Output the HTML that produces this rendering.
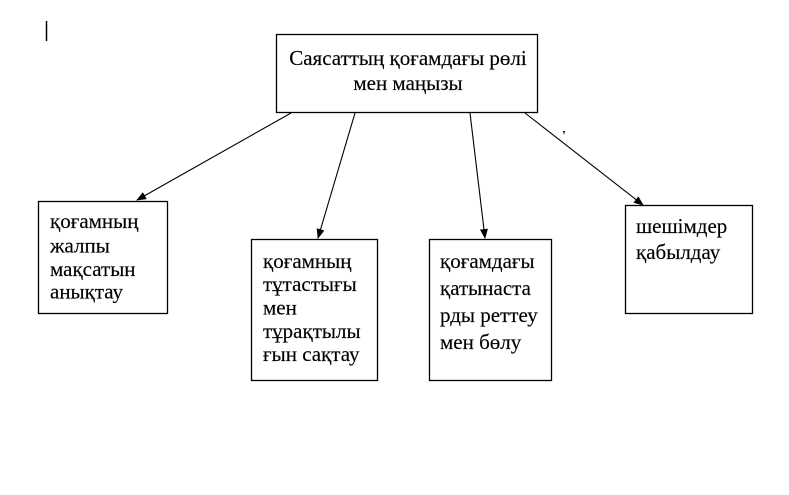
<!DOCTYPE html>
<html>
<head>
<meta charset="utf-8">
<style>
  html, body { margin: 0; padding: 0; background: #ffffff; }
  body { width: 789px; height: 495px; overflow: hidden; }
  svg { display: block; }
  text { font-family: "Liberation Serif", "Times New Roman", serif; font-size: 21px; fill: #000; stroke: #000; stroke-width: 0.15px; }
</style>
</head>
<body>
<svg width="789" height="495" viewBox="0 0 789 495" xmlns="http://www.w3.org/2000/svg">
  <defs>
    <marker id="ah" markerWidth="10" markerHeight="8" refX="9" refY="4" orient="auto" markerUnits="userSpaceOnUse">
      <path d="M0,0 L10,4 L0,8 Z" fill="#000"/>
    </marker>
  </defs>

  <!-- cursor -->
  <line x1="46.5" y1="21" x2="46.5" y2="41" stroke="#000" stroke-width="1.5"/>

  <!-- top box -->
  <rect x="276.5" y="34.5" width="261" height="78" fill="#fff" stroke="#000" stroke-width="1.3"/>
  <text x="408" y="65" text-anchor="middle">Саясаттың қоғамдағы рөлі</text>
  <text x="408" y="90" text-anchor="middle">мен маңызы</text>

  <!-- connectors -->
  <line x1="291" y1="113" x2="137" y2="200" stroke="#000" stroke-width="1.1" marker-end="url(#ah)"/>
  <line x1="355" y1="113" x2="318" y2="238" stroke="#000" stroke-width="1.1" marker-end="url(#ah)"/>
  <line x1="470" y1="113" x2="485" y2="238" stroke="#000" stroke-width="1.1" marker-end="url(#ah)"/>
  <line x1="525" y1="113" x2="643" y2="205" stroke="#000" stroke-width="1.1" marker-end="url(#ah)"/>

  <!-- stray mark -->
  <path d="M563,131 L565,131 L564,135 Z" fill="#000"/>

  <!-- box 1 -->
  <rect x="38.5" y="201.5" width="129" height="112" fill="#fff" stroke="#000" stroke-width="1.3"/>
  <text x="50" y="228">қоғамның</text>
  <text x="50" y="252.5">жалпы</text>
  <text x="50" y="276">мақсатын</text>
  <text x="50" y="298.5">анықтау</text>

  <!-- box 2 -->
  <rect x="251.5" y="239.5" width="126" height="141" fill="#fff" stroke="#000" stroke-width="1.3"/>
  <text x="263" y="268">қоғамның</text>
  <text x="263" y="291">тұтастығы</text>
  <text x="263" y="314.5">мен</text>
  <text x="263" y="338">тұрақтылы</text>
  <text x="263" y="361">ғын сақтау</text>

  <!-- box 3 -->
  <rect x="429.5" y="239.5" width="122" height="141" fill="#fff" stroke="#000" stroke-width="1.3"/>
  <text x="440" y="268">қоғамдағы</text>
  <text x="440" y="295">қатынаста</text>
  <text x="440" y="322">рды реттеу</text>
  <text x="440" y="349">мен бөлу</text>

  <!-- box 4 -->
  <rect x="625.5" y="205.5" width="127" height="108" fill="#fff" stroke="#000" stroke-width="1.3"/>
  <text x="636" y="233">шешімдер</text>
  <text x="636" y="259">қабылдау</text>
</svg>
</body>
</html>
